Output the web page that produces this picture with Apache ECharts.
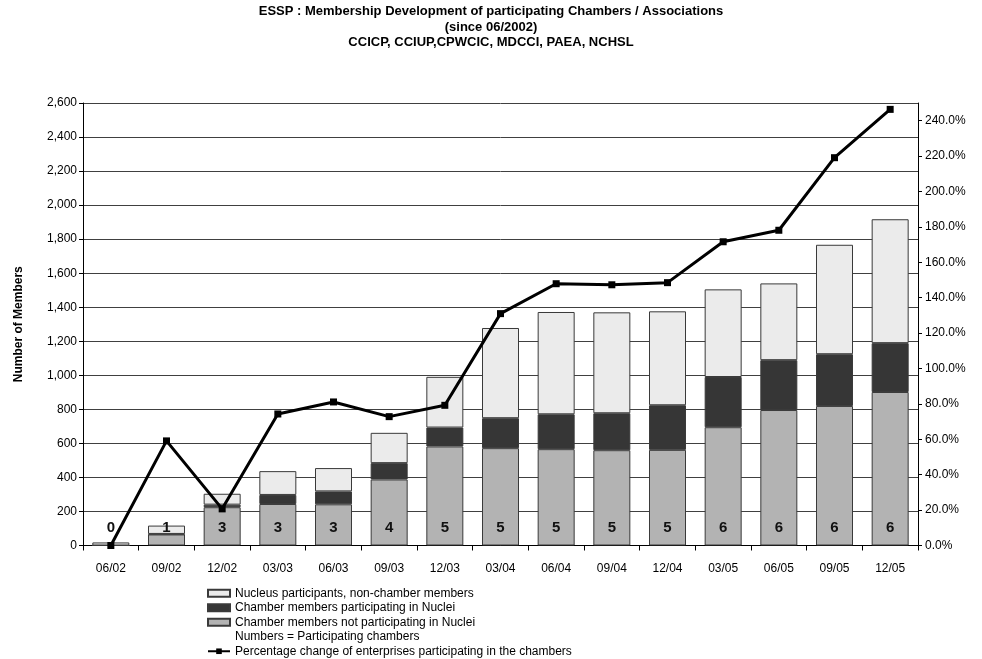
<!DOCTYPE html>
<html>
<head>
<meta charset="utf-8">
<script src="https://cdn.jsdelivr.net/npm/echarts@6/dist/echarts.min.js"></script>
<style>
html,body{margin:0;padding:0;background:#fff;}
#main{width:982px;height:659px;}
</style>
</head>
<body>
<div id="main"></div>
<script>
const categories = ['06/02','09/02','12/02','03/03','06/03','09/03','12/03','03/04','06/04','09/04','12/04','03/05','06/05','09/05','12/05'];
const notParticipating = [0, 65, 225, 244, 242, 388, 582, 572, 566, 560, 562, 695, 796, 820, 902];
const participating = [0, 3, 15, 53, 76, 96, 111, 176, 205, 217, 262, 295, 293, 304, 287];
const nonChamber = [18, 49, 64, 140, 137, 178, 298, 530, 601, 593, 552, 515, 451, 643, 728];
const chambers = [0, 1, 3, 3, 3, 4, 5, 5, 5, 5, 5, 6, 6, 6, 6];
const pctChange = [0, 59.1, 20.7, 74.3, 81.1, 72.8, 79.2, 131.0, 147.9, 147.3, 148.5, 171.6, 178.1, 219.1, 246.4];
const leftTicks = {min: 0, max: 2600, interval: 200};
const rightTicks = {min: 0, max: 250, interval: 20};
const rightTickValues = [0, 20, 40, 60, 80, 100, 120, 140, 160, 180, 200, 220, 240];

const FONT = 'Arial, "Liberation Sans", sans-serif';
const chart = echarts.init(document.getElementById('main'));
const names = {
  nc: 'Nucleus participants, non-chamber members',
  p: 'Chamber members participating in Nuclei',
  np: 'Chamber members not participating in Nuclei',
  num: 'Numbers = Participating chambers',
  pct: 'Percentage change of enterprises participating in the chambers'
};
const barBorder = {borderColor: '#3a3a3a', borderWidth: 1};
chart.setOption({
  animation: false,
  textStyle: {fontFamily: FONT},
  title: {
    text: 'ESSP : Membership Development of participating Chambers / Associations\n(since 06/2002)\nCCICP, CCIUP,CPWCIC, MDCCI, PAEA, NCHSL',
    left: 'center', top: 4, padding: 0,
    textStyle: {fontFamily: FONT, fontSize: 13, fontWeight: 'bold', color: '#000', lineHeight: 15.5}
  },
  legend: {
    orient: 'vertical', left: 207, top: 586, height: 80, padding: 0,
    itemWidth: 22, itemHeight: 7, itemGap: 0,
    textStyle: {fontFamily: FONT, fontSize: 12, color: '#000', lineHeight: 14.5},
    data: [
      {name: names.nc, icon: 'rect'},
      {name: names.p, icon: 'rect'},
      {name: names.np, icon: 'rect'},
      {name: names.num, icon: 'rect', itemStyle: {opacity: 0}},
      {name: names.pct}
    ]
  },
  grid: {left: 83, right: 64, top: 103, bottom: 113.5, containLabel: false},
  xAxis: {
    type: 'category', data: categories,
    axisLine: {lineStyle: {color: '#000', width: 1}},
    axisTick: {show: true, length: 5, interval: 0, lineStyle: {color: '#000'}},
    axisLabel: {fontFamily: FONT, fontSize: 12, color: '#000', margin: 17, interval: 0}
  },
  yAxis: [
    {
      type: 'value', min: leftTicks.min, max: leftTicks.max, interval: leftTicks.interval,
      name: 'Number of Members', nameLocation: 'middle', nameGap: 58,
      nameTextStyle: {fontFamily: FONT, fontSize: 12, fontWeight: 'bold', color: '#000'},
      axisLine: {show: true, lineStyle: {color: '#000'}},
      axisTick: {show: true, length: 4, lineStyle: {color: '#000'}},
      axisLabel: {fontFamily: FONT, fontSize: 12, color: '#000', margin: 6,
        formatter: v => v.toLocaleString('en-US')},
      splitLine: {show: true, lineStyle: {color: '#404040', width: 1}}
    },
    {
      type: 'value', min: rightTicks.min, max: rightTicks.max, interval: rightTicks.interval,
      position: 'right',
      axisLine: {show: true, lineStyle: {color: '#000'}},
      axisTick: {show: true, length: 4, lineStyle: {color: '#000'}, customValues: rightTickValues},
      axisLabel: {fontFamily: FONT, fontSize: 12, color: '#000', margin: 7,
        customValues: rightTickValues,
        formatter: v => Number(v).toFixed(1) + '%'},
      splitLine: {show: false}
    }
  ],
  series: [
    {name: names.np, type: 'bar', stack: 'm', barWidth: 37, data: notParticipating,
      itemStyle: Object.assign({color: '#b3b3b3'}, barBorder)},
    {name: names.p, type: 'bar', stack: 'm', barWidth: 37, data: participating,
      itemStyle: Object.assign({color: '#363636'}, barBorder)},
    {name: names.nc, type: 'bar', stack: 'm', barWidth: 37, data: nonChamber,
      itemStyle: Object.assign({color: '#ebebeb'}, barBorder)},
    {name: 'chamberLabels', type: 'scatter', symbolSize: 0, z: 5,
      itemStyle: {opacity: 1, color: '#000'},
      data: chambers.map((c, i) => [i, 0]),
      label: {show: true, position: 'top', distance: 10,
        formatter: p => String(chambers[p.dataIndex]),
        fontFamily: FONT, fontSize: 15, fontWeight: 'bold', color: '#111', opacity: 1},
      tooltip: {show: false}},
    {name: names.num, type: 'line', data: [], symbol: 'none',
      itemStyle: {color: 'transparent'}, lineStyle: {color: 'transparent'}},
    {name: names.pct, type: 'line', yAxisIndex: 1, data: pctChange, z: 10,
      symbol: 'rect', symbolSize: 7, showAllSymbol: true,
      itemStyle: {color: '#000'}, lineStyle: {color: '#000', width: 3}}
  ]
});
</script>
</body>
</html>
